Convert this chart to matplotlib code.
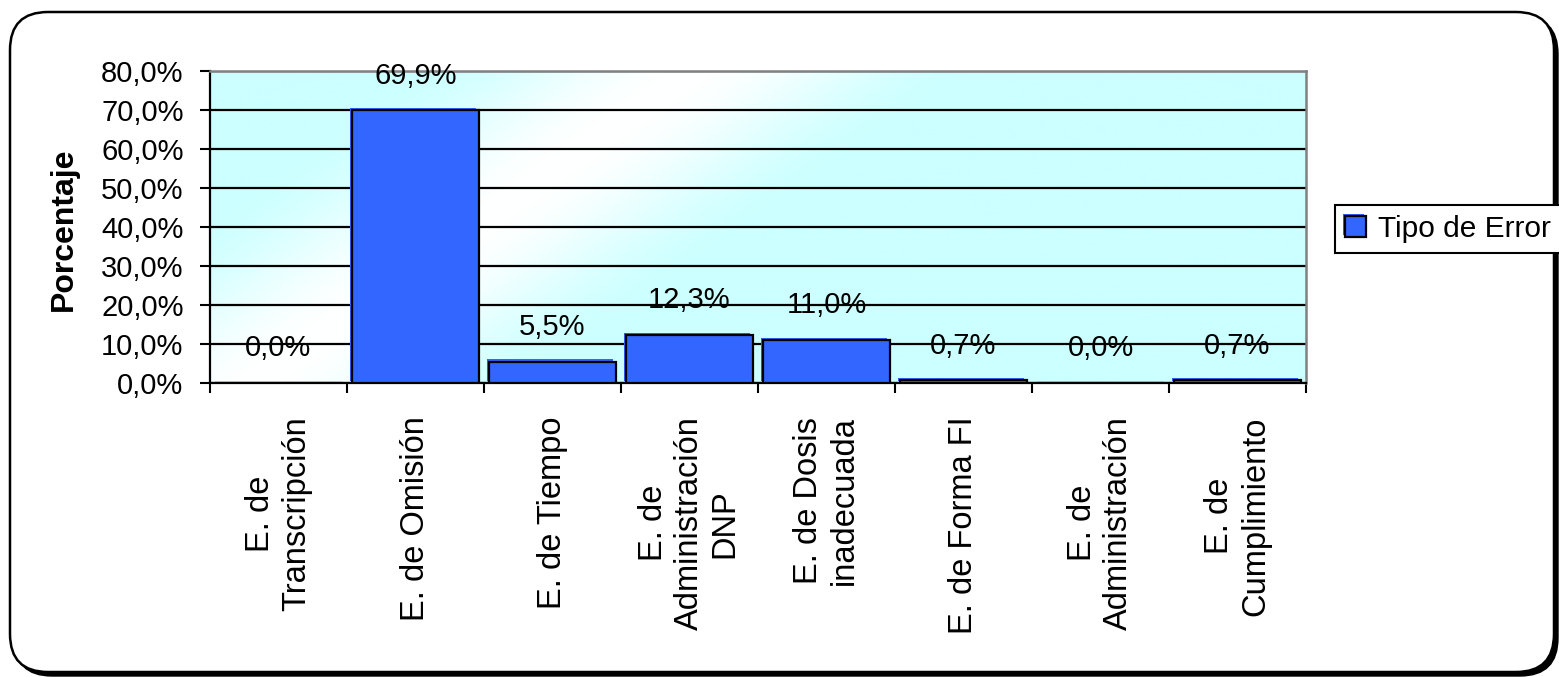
import numpy as np
import matplotlib
matplotlib.use("Agg")
import matplotlib.pyplot as plt
import matplotlib.patheffects as pe
from matplotlib.patches import FancyBboxPatch
from matplotlib.transforms import IdentityTransform
from matplotlib.ticker import FuncFormatter, MultipleLocator, FixedLocator

plt.rcParams["font.family"] = ["Liberation Sans", "DejaVu Sans"]

# datos
categorias = [
    "E. de\nTranscripción",
    "E. de Omisión",
    "E. de Tiempo",
    "E. de\nAdministración\nDNP",
    "E. de Dosis\ninadecuada",
    "E. de Forma FI",
    "E. de\nAdministración",
    "E. de\nCumplimiento",
]
porcentajes = [0.0, 69.9, 5.5, 12.3, 11.0, 0.7, 0.0, 0.7]
serie = "Tipo de Error"
eje_y = "Porcentaje"

W, H = 1559, 677
AZUL = "#3366FF"


def pct(v):
    return f"{v:.1f}".replace(".", ",") + "%"


fig = plt.figure(figsize=(W / 100, H / 100), dpi=100, facecolor="white")

# marco redondeado con sombra
sombra = FancyBboxPatch((14, 1), 1544, 660, boxstyle="round,pad=0,rounding_size=38",
                        transform=IdentityTransform(), facecolor="black",
                        edgecolor="black", zorder=-20)
marco = FancyBboxPatch((10, 5), 1544, 660, boxstyle="round,pad=0,rounding_size=38",
                       transform=IdentityTransform(), facecolor="white",
                       edgecolor="black", linewidth=1.8, zorder=-19)
fig.patches.extend([sombra, marco])

ax = fig.add_axes([210 / W, 1 - 383 / H, 1096 / W, 312 / H])

# fondo degradado cian / blanco
h, w = 312, 1096
yy, xx = np.mgrid[0:h, 0:w]
d = ((xx - 45) * 312 - yy * 440) / np.hypot(312, 440)
f = np.clip(np.abs(d) / 165, 0, 1)
f = f * f * (3 - 2 * f)
cian = np.array([0.8, 1.0, 1.0])
img = 1 - f[..., None] * (1 - cian)
ax.imshow(img, extent=[-0.5, 7.5, 0, 80], origin="lower", aspect="auto", zorder=0)

x = np.arange(len(categorias))
ax.bar(x, porcentajes, width=0.92, color=AZUL, edgecolor="black", linewidth=1.6,
       zorder=3, label=serie,
       path_effects=[pe.SimplePatchShadow(offset=(-1.5, 1.5), shadow_rgbFace=AZUL, alpha=1.0),
                     pe.Normal()])

for xi, v in zip(x, porcentajes):
    ax.annotate(pct(v), xy=(xi, v), xytext=(0, 25), textcoords="offset points",
                ha="center", va="center", fontsize=21, zorder=5)

ax.set_xlim(-0.5, 7.5)
ax.set_ylim(0, 80)

ax.yaxis.set_major_locator(MultipleLocator(10))
ax.yaxis.set_major_formatter(FuncFormatter(lambda v, p: pct(v)))
ax.yaxis.grid(True, color="black", linewidth=1.6)
ax.set_axisbelow(True)
for gl in ax.yaxis.get_gridlines():
    gl.set_zorder(1)

ax.set_xticks(x)
ax.set_xticklabels(categorias, rotation=90, fontsize=23.5, multialignment="center")
ax.xaxis.set_minor_locator(FixedLocator(np.arange(-0.5, 8, 1)))
ax.tick_params(axis="x", which="major", length=0, pad=24)
ax.tick_params(axis="x", which="minor", length=7, width=1.5, direction="out")
ax.tick_params(axis="y", length=7, width=1.5, direction="out", pad=12, labelsize=21)

for s in ["left", "bottom"]:
    ax.spines[s].set_color("black")
    ax.spines[s].set_linewidth(1.6)
for s in ["top", "right"]:
    ax.spines[s].set_color("#808080")
    ax.spines[s].set_linewidth(1.8)

fig.text(64 / W, 1 - 229 / H, eje_y, rotation=90, ha="center", va="center",
         fontsize=23, fontweight="bold")

leg = fig.legend(loc="center left", bbox_to_anchor=(1335 / W, 1 - 229 / H),
                 fontsize=21.5, frameon=True, fancybox=False, edgecolor="black",
                 framealpha=1, handlelength=0.7, handleheight=0.7,
                 handletextpad=0.4, borderpad=0.35, borderaxespad=0)
leg.get_frame().set_linewidth(1.5)

fig.savefig("out.png", dpi=100, facecolor="white")
